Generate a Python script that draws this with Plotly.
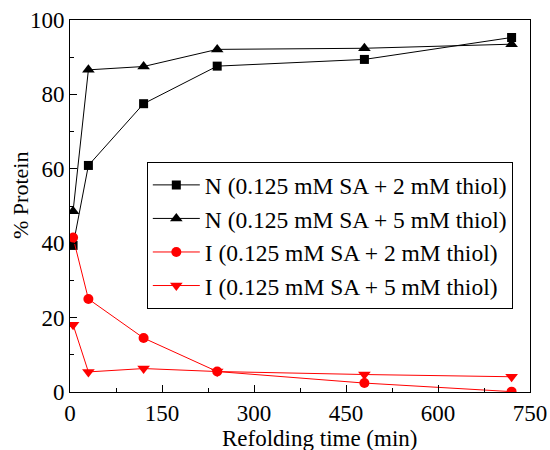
import plotly.graph_objects as go

# Refolding time points (min)
time_min = [5, 30, 120, 240, 480, 720]

# % protein in native (N) and intermediate (I) states
n_2mm = [39.4, 60.9, 77.5, 87.6, 89.4, 95.3]
n_5mm = [48.6, 86.6, 87.5, 92.1, 92.4, 93.5]
i_2mm = [41.5, 25.0, 14.5, 5.5, 2.4, 0.1]
i_5mm = [18.1, 5.4, 6.3, 5.5, 4.7, 4.1]

names = [
    "N (0.125 mM SA + 2 mM thiol)",
    "N (0.125 mM SA + 5 mM thiol)",
    "I (0.125 mM SA + 2 mM thiol)",
    "I (0.125 mM SA + 5 mM thiol)",
]

x_ticks = [0, 150, 300, 450, 600, 750]
y_ticks = [0, 20, 40, 60, 80, 100]

x_title = "Refolding time (min)"
y_title = "% Protein"

FONT = "Liberation Serif"

series = [
    (n_2mm, "black", "square", 9),
    (n_5mm, "black", "triangle-up", 11),
    (i_2mm, "#ff0000", "circle", 10),
    (i_5mm, "#ff0000", "triangle-down", 11),
]

fig = go.Figure()
for (vals, color, symbol, size), name in zip(series, names):
    fig.add_trace(go.Scatter(
        x=time_min, y=vals, name=name, mode="lines+markers",
        line=dict(color=color, width=1),
        marker=dict(symbol=symbol, size=size, color=color),
    ))

fig.update_layout(
    width=550, height=450,
    margin=dict(l=70, r=20, t=20, b=58),
    paper_bgcolor="white", plot_bgcolor="white",
    font=dict(family=FONT, color="black"),
    showlegend=True,
    legend=dict(
        x=0.167, y=0.618, xanchor="left", yanchor="top",
        bordercolor="black", borderwidth=1, bgcolor="white",
        font=dict(family=FONT, size=23.5), tracegroupgap=0,
        itemwidth=47,
    ),
)

fig.update_xaxes(
    range=[0, 750], tickvals=x_ticks, ticktext=[str(v) for v in x_ticks],
    showgrid=False, zeroline=False, automargin=False,
    showline=True, linecolor="black", linewidth=1, mirror=True,
    ticks="inside", ticklen=7, tickcolor="black",
    minor=dict(dtick=75, tick0=0, ticks="inside", ticklen=4, tickcolor="black"),
    tickfont=dict(family=FONT, size=23),
)
fig.update_yaxes(
    range=[0, 100], tickvals=y_ticks, ticktext=[str(v) for v in y_ticks],
    showgrid=False, zeroline=False, automargin=False,
    showline=True, linecolor="black", linewidth=1, mirror=True,
    ticks="inside", ticklen=7, tickcolor="black",
    minor=dict(dtick=10, tick0=0, ticks="inside", ticklen=4, tickcolor="black"),
    tickfont=dict(family=FONT, size=23),
)

# Axis titles placed as paper-anchored labels
fig.add_annotation(
    text=x_title, xref="paper", yref="paper", x=0.543, y=-0.086,
    xanchor="center", yanchor="top", showarrow=False,
    font=dict(family=FONT, size=23),
)
fig.add_annotation(
    text=y_title, xref="paper", yref="paper", x=-0.1065, y=0.527,
    xanchor="center", yanchor="middle", textangle=-90, showarrow=False,
    font=dict(family=FONT, size=22),
)

fig.write_html("out.html")
